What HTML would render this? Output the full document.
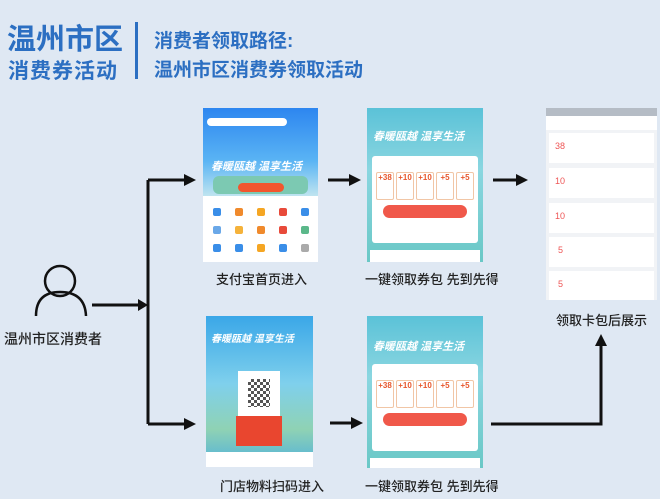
<!DOCTYPE html>
<html><head><meta charset="utf-8"><style>
*{margin:0;padding:0;box-sizing:border-box}
body{width:660px;height:499px;background:#dfe8f3;position:relative;overflow:hidden;font-family:"Liberation Sans","Noto Sans CJK SC",sans-serif}
.a{position:absolute}
.t{color:#2c6fc2;font-weight:bold;white-space:nowrap}
.lb{position:absolute;font-size:13px;color:#222;white-space:nowrap;font-weight:500}
.ph{position:absolute;overflow:hidden}
.cp{position:absolute;background:#fff;border:1px solid #f1c6a6;border-radius:2px;color:#e7572d;font-size:8px;text-align:center;font-weight:bold}
.ic{position:absolute;width:8px;height:8px;border-radius:2px}
</style></head><body>
<div class="a t" style="left:7px;top:16px;font-size:29px">温州市区</div>
<div class="a t" style="left:8px;top:55px;font-size:21px;letter-spacing:1px">消费券活动</div>
<div class="a" style="left:135px;top:22px;width:3px;height:57px;background:#2c6fc2"></div>
<div class="a t" style="left:154px;top:26px;font-size:19px">消费者领取路径:</div>
<div class="a t" style="left:154px;top:55px;font-size:19px">温州市区消费券领取活动</div>

<svg class="a" style="left:0;top:0" width="660" height="499">
<g fill="none" stroke="#111" stroke-width="3">
<circle cx="60" cy="281" r="15" stroke-width="2.5"/>
<path d="M36 316 Q36 292 60 292 Q85 292 86 316" stroke-width="2.5"/>
<path d="M92 305 H140"/>
<path d="M148 180 V424"/>
<path d="M148 180 H185 M148 424 H185"/>
<path d="M328 180 H350 M493 180 H518 M330 423 H352"/>
<path d="M491 424 H601 V345"/>
</g>
<g fill="#111">
<polygon points="138,299 148,305 138,311"/>
<polygon points="184,174 196,180 184,186"/>
<polygon points="184,418 196,424 184,430"/>
<polygon points="349,174 361,180 349,186"/>
<polygon points="516,174 528,180 516,186"/>
<polygon points="351,417 363,423 351,429"/>
<polygon points="595,346 601,334 607,346"/>
</g>
</svg>
<div class="lb" style="left:4px;top:329px;font-size:14px">温州市区消费者</div>

<!-- phone 1 -->
<div class="ph" style="left:203px;top:108px;width:115px;height:154px;background:#fff">
<div class="a" style="left:0;top:0;width:115px;height:88px;background:linear-gradient(#2d86f0,#5ab4f4 60%,#bfe4f0)"></div>
<div class="a" style="left:4px;top:10px;width:80px;height:8px;background:#fff;border-radius:4px"></div>
<div class="a" style="left:10px;top:68px;width:95px;height:18px;background:#7cc9b2;border-radius:6px"></div>
<div class="a" style="left:8px;top:50px;font-size:11px;color:#fff;font-weight:bold;font-style:italic">春暖瓯越 温享生活</div>
<div class="a" style="left:35px;top:75px;width:46px;height:9px;background:#f2562e;border-radius:5px"></div>
<div class="ic" style="left:10px;top:100px;background:#3a8ee8"></div><div class="ic" style="left:32px;top:100px;background:#f08a2c"></div><div class="ic" style="left:54px;top:100px;background:#f5a623"></div><div class="ic" style="left:76px;top:100px;background:#e84a3a"></div><div class="ic" style="left:98px;top:100px;background:#3a8ee8"></div>
<div class="ic" style="left:10px;top:118px;background:#6aa8e8"></div><div class="ic" style="left:32px;top:118px;background:#f5b23a"></div><div class="ic" style="left:54px;top:118px;background:#f08a2c"></div><div class="ic" style="left:76px;top:118px;background:#e84a3a"></div><div class="ic" style="left:98px;top:118px;background:#5bb88a"></div>
<div class="ic" style="left:10px;top:136px;background:#3a8ee8"></div><div class="ic" style="left:32px;top:136px;background:#3a8ee8"></div><div class="ic" style="left:54px;top:136px;background:#f5a623"></div><div class="ic" style="left:76px;top:136px;background:#3a8ee8"></div><div class="ic" style="left:98px;top:136px;background:#aaa"></div>
</div>
<div class="lb" style="left:216px;top:269px">支付宝首页进入</div>

<!-- phone 2 -->
<div class="ph" style="left:367px;top:108px;width:116px;height:154px;background:linear-gradient(#5bc2d8,#8ad6e0 40%,#6ac8c6)">
<div class="a" style="left:6px;top:20px;font-size:11px;color:#fff;font-weight:bold;font-style:italic">春暖瓯越 温享生活</div>
<div class="a" style="left:5px;top:48px;width:106px;height:87px;background:#fff;border-radius:3px"></div>
<div class="cp" style="left:9px;top:64px;width:18px;height:28px">+38</div>
<div class="cp" style="left:29px;top:64px;width:18px;height:28px">+10</div>
<div class="cp" style="left:49px;top:64px;width:18px;height:28px">+10</div>
<div class="cp" style="left:69px;top:64px;width:18px;height:28px">+5</div>
<div class="cp" style="left:89px;top:64px;width:18px;height:28px">+5</div>
<div class="a" style="left:16px;top:97px;width:84px;height:13px;background:#f0584a;border-radius:7px"></div>
<div class="a" style="left:3px;top:142px;width:110px;height:14px;background:#fff"></div>
</div>
<div class="lb" style="left:365px;top:269px">一键领取券包 先到先得</div>

<!-- phone 3 -->
<div class="ph" style="left:546px;top:108px;width:111px;height:192px;background:#f1f3f6">
<div class="a" style="left:0;top:0;width:111px;height:8px;background:#b5bcc5"></div>
<div class="a" style="left:0;top:8px;width:111px;height:14px;background:#fff"></div>
<div class="a" style="left:3px;top:25px;width:105px;height:30px;background:#fff"><span class="a" style="left:6px;top:8px;font-size:9px;color:#e55">38</span></div>
<div class="a" style="left:3px;top:60px;width:105px;height:30px;background:#fff"><span class="a" style="left:6px;top:8px;font-size:9px;color:#e55">10</span></div>
<div class="a" style="left:3px;top:95px;width:105px;height:30px;background:#fff"><span class="a" style="left:6px;top:8px;font-size:9px;color:#e55">10</span></div>
<div class="a" style="left:3px;top:129px;width:105px;height:30px;background:#fff"><span class="a" style="left:9px;top:8px;font-size:9px;color:#e55">5</span></div>
<div class="a" style="left:3px;top:163px;width:105px;height:29px;background:#fff"><span class="a" style="left:9px;top:8px;font-size:9px;color:#e55">5</span></div>
</div>
<div class="lb" style="left:556px;top:310px">领取卡包后展示</div>

<!-- phone 4 -->
<div class="ph" style="left:206px;top:316px;width:107px;height:151px;background:linear-gradient(#3aa7e8,#7fd0ec 45%,#8fd2b4 75%,#4fb0dc)">
<div class="a" style="left:5px;top:14px;font-size:10px;color:#fff;font-weight:bold;font-style:italic">春暖瓯越 温享生活</div>
<div class="a" style="left:32px;top:55px;width:42px;height:45px;background:#fff"></div>
<div class="a" style="left:42px;top:63px;width:22px;height:28px;background:repeating-conic-gradient(#555 0 25%,#fff 0 50%) 0 0/6px 6px"></div>
<div class="a" style="left:30px;top:100px;width:46px;height:30px;background:#e9462f"></div>
<div class="a" style="left:0;top:136px;width:107px;height:15px;background:#fff"></div>
</div>
<div class="lb" style="left:220px;top:476px">门店物料扫码进入</div>

<!-- phone 5 -->
<div class="ph" style="left:367px;top:316px;width:116px;height:152px;background:linear-gradient(#5bc2d8,#8ad6e0 40%,#6ac8c6)">
<div class="a" style="left:6px;top:22px;font-size:11px;color:#fff;font-weight:bold;font-style:italic">春暖瓯越 温享生活</div>
<div class="a" style="left:5px;top:48px;width:106px;height:87px;background:#fff;border-radius:3px"></div>
<div class="cp" style="left:9px;top:64px;width:18px;height:28px">+38</div>
<div class="cp" style="left:29px;top:64px;width:18px;height:28px">+10</div>
<div class="cp" style="left:49px;top:64px;width:18px;height:28px">+10</div>
<div class="cp" style="left:69px;top:64px;width:18px;height:28px">+5</div>
<div class="cp" style="left:89px;top:64px;width:18px;height:28px">+5</div>
<div class="a" style="left:16px;top:97px;width:84px;height:13px;background:#f0584a;border-radius:7px"></div>
<div class="a" style="left:3px;top:142px;width:110px;height:14px;background:#fff"></div>
</div>
<div class="lb" style="left:365px;top:476px">一键领取券包 先到先得</div>
</body></html>
